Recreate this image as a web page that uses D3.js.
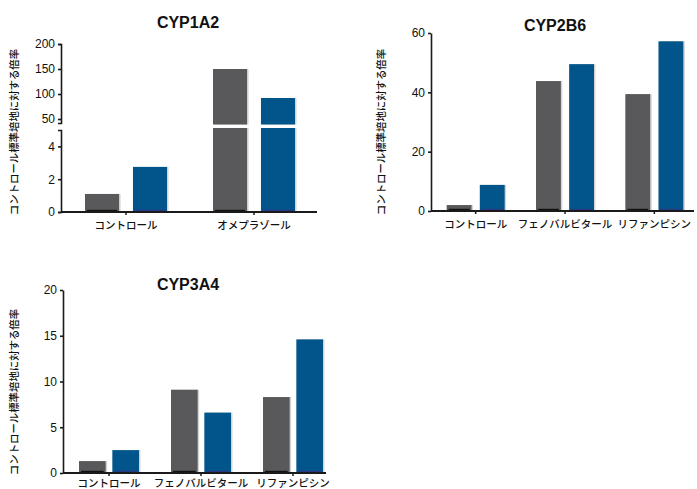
<html>
<head>
    <meta charset="utf-8">
    <script src="https://cdn.jsdelivr.net/npm/d3@7"></script>
    <style>
        body { margin: 0; background: #fff; }
        text { font-family: "Liberation Sans", Arial, sans-serif; }
        .jp { font-family: "Noto Sans CJK JP", sans-serif; }
    </style>
</head>
<body>
    <div id="cont"></div>

    <script>
        // data
        var series = ["gray", "blue"];
        var cats1 = ["コントロール", "オメプラゾール"];
        var vals1 = { gray: [1.1, 150], blue: [2.75, 92] };
        var cats2 = ["コントロール", "フェノバルビタール", "リファンピシン"];
        var vals2 = { gray: [2.0, 43.8, 39.4], blue: [8.8, 49.5, 57.2] };
        var cats3 = ["コントロール", "フェノバルビタール", "リファンピシン"];
        var vals3 = { gray: [1.3, 9.1, 8.3], blue: [2.5, 6.6, 14.6] };
        var ticks1lo = [0, 2, 4];
        var ticks1hi = [50, 100, 150, 200];
        var ticks2 = [0, 20, 40, 60];
        var ticks3 = [0, 5, 10, 15, 20];
        var yTitle = "コントロール標準培地に対する倍率";

        var colors = { gray: "#59595b", blue: "#02558a" };
        var strip = { gray: "#111111", blue: "#2a3784" };

        var svg = d3.select("#cont").append("svg")
            .attr("width", 697)
            .attr("height", 489);

        var styleAxis = function(g) {
            g.selectAll("path, line").attr("stroke", "#1a1a1a").attr("stroke-width", 1.6);
            g.selectAll("text").attr("font-size", 12).attr("fill", "#111")
                .attr("font-family", "'Liberation Sans', Arial, sans-serif");
        };

        var drawBar = function(x, w, top, bottom, s, withStrip) {
            svg.append("rect")
                .attr("x", x + 1.5).attr("y", top).attr("width", w).attr("height", bottom - top)
                .attr("fill", "#d4d4d4");
            svg.append("rect")
                .attr("x", x).attr("y", top).attr("width", w).attr("height", bottom - top)
                .attr("fill", colors[s]);
            if (withStrip)
                svg.append("rect")
                    .attr("x", x + 2).attr("y", bottom - 2.2).attr("width", w - 4).attr("height", 2.2)
                    .attr("fill", strip[s]);
        };

        var drawFrame = function(p) {
            svg.append("text")
                .attr("x", p.titleX).attr("y", p.titleY)
                .attr("text-anchor", "middle")
                .attr("font-size", 16).attr("font-weight", "bold").attr("fill", "#111")
                .text(p.title);

            svg.append("text")
                .attr("class", "jp")
                .attr("transform", "translate(" + p.ytX + "," + p.ytY + ") rotate(-90)")
                .attr("text-anchor", "middle")
                .attr("dominant-baseline", "middle")
                .attr("font-size", 10.4).attr("font-weight", 500).attr("fill", "#111")
                .text(yTitle);

            // x axis baseline
            svg.append("line")
                .attr("x1", p.x0).attr("x2", p.x1)
                .attr("y1", p.base).attr("y2", p.base)
                .attr("stroke", "#1a1a1a").attr("stroke-width", 1.8);

            p.cats.forEach(function(c) {
                var cx = p.x(c) + p.x.bandwidth() / 2;
                svg.append("line")
                    .attr("x1", cx).attr("x2", cx)
                    .attr("y1", p.base).attr("y2", p.base + 3)
                    .attr("stroke", "#1a1a1a").attr("stroke-width", 1.5);
                svg.append("text")
                    .attr("class", "jp")
                    .attr("x", cx).attr("y", p.base + p.labelDy)
                    .attr("text-anchor", "middle")
                    .attr("font-size", 10.5).attr("font-weight", 500).attr("fill", "#111")
                    .text(c);
            });
        };

        // ---------- CYP2B6 / CYP3A4: plain axes ----------
        var simplePanel = function(p) {
            p.x = d3.scaleBand().domain(p.cats).range(p.xr);
            var inner = d3.scaleBand().domain(series).range(p.ir).paddingInner(p.pad);
            var y = d3.scaleLinear().domain([0, p.ymax]).range([p.base, p.top]);
            p.cats.forEach(function(c, i) {
                var cx = p.x(c) + p.x.bandwidth() / 2;
                series.forEach(function(s) {
                    drawBar(cx + inner(s), inner.bandwidth(), y(p.vals[s][i]), y(0), s, true);
                });
            });
            drawFrame(p);
            svg.append("g")
                .attr("transform", "translate(" + p.x0 + ",0)")
                .call(d3.axisLeft(y).tickValues(p.ticks).tickFormat(d3.format("d"))
                    .tickSize(3).tickSizeOuter(0).tickPadding(3))
                .call(styleAxis);
        };

        simplePanel({
            title: "CYP2B6", titleX: 555, titleY: 31, ytX: 382, ytY: 132,
            cats: cats2, vals: vals2, ticks: ticks2, ymax: 60,
            xr: [431, 699], ir: [-29, 29], pad: 0.25,
            x0: 431, x1: 694, base: 211, top: 33, labelDy: 17
        });

        simplePanel({
            title: "CYP3A4", titleX: 188, titleY: 290, ytX: 15, ytY: 392,
            cats: cats3, vals: vals3, ticks: ticks3, ymax: 20,
            xr: [63, 339], ir: [-30, 30], pad: 0.2,
            x0: 63, x1: 326, base: 473, top: 290, labelDy: 13.5
        });

        // ---------- CYP1A2: broken y axis ----------
        var p1 = {
            title: "CYP1A2", titleX: 188, titleY: 28, ytX: 15, ytY: 132,
            cats: cats1, x0: 61, x1: 317, base: 212, labelDy: 17
        };
        p1.x = d3.scaleBand().domain(cats1).range([62, 318]);
        var inner1 = d3.scaleBand().domain(series).range([-41, 41]).paddingInner(0.29);
        var yLo = d3.scaleLinear().domain([0, 5]).range([212, 130]);
        var yHi = d3.scaleLinear().domain([42, 200]).range([123, 44]);

        cats1.forEach(function(c, i) {
            var cx = p1.x(c) + p1.x.bandwidth() / 2;
            series.forEach(function(s) {
                var v = vals1[s][i];
                var bx = cx + inner1(s), bw = inner1.bandwidth();
                if (v <= 5) {
                    drawBar(bx, bw, yLo(v), yLo(0), s, true);
                } else {
                    drawBar(bx, bw, yLo(5) - 2, yLo(0), s, true);
                    drawBar(bx, bw, yHi(v), yHi(42) + 1.5, s, false);
                }
            });
        });

        drawFrame(p1);

        svg.append("g")
            .attr("transform", "translate(61,0)")
            .call(d3.axisLeft(yLo).tickValues(ticks1lo).tickFormat(d3.format("d"))
                .tickSize(3).tickSizeOuter(3).tickPadding(3))
            .call(styleAxis);
        svg.append("g")
            .attr("transform", "translate(61,0)")
            .call(d3.axisLeft(yHi).tickValues(ticks1hi).tickFormat(d3.format("d"))
                .tickSize(3).tickSizeOuter(3).tickPadding(3))
            .call(styleAxis);
    </script>
</body>
</html>
